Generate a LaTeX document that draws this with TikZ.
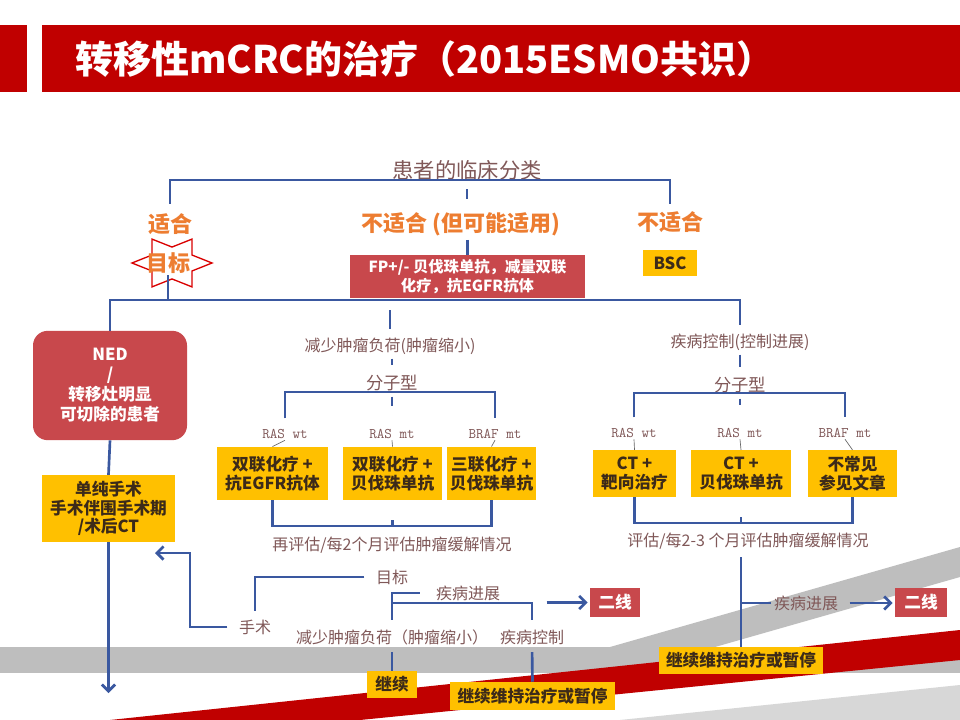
\documentclass[tikz,border=0pt]{standalone}
\usepackage{fontspec}
\setmainfont{Noto Sans CJK SC}
\usepackage{xcolor}
\usetikzlibrary{arrows.meta}
\usetikzlibrary{positioning, calc}

\definecolor{titred}{RGB}{192,0,0}
\definecolor{lnblue}{RGB}{58,88,160}
\definecolor{brn}{RGB}{128,88,88}
\definecolor{orng}{RGB}{237,125,49}
\definecolor{gold}{RGB}{255,192,0}
\definecolor{redbox}{RGB}{200,72,76}
\definecolor{ink}{RGB}{60,42,25}
\definecolor{bandgray}{RGB}{190,190,190}
\definecolor{bandlight}{RGB}{215,215,215}

\tikzset{
  link/.style={draw=lnblue, line width=2pt},
  arr/.style={link, -{Straight Barb[length=5pt, width=10pt, line width=2pt]}},
  tick/.style={draw=gray!80!black, line width=0.5pt},
  txt/.style={text=brn, inner sep=1pt, font=\fontsize{12}{14}\selectfont},
  bigtxt/.style={txt, font=\fontsize{16}{18}\selectfont},
  ora/.style={text=orng, inner sep=1pt, font=\bfseries\fontsize{16.5}{19}\selectfont},
  mono/.style={text=brn, inner sep=1pt, font=\ttfamily\fontsize{11}{12}\selectfont},
  ybox/.style={fill=gold, text=ink, align=center, inner sep=0pt,
    font=\bfseries\fontsize{12.5}{14}\selectfont},
  rbox/.style={fill=redbox, text=white, align=center, inner sep=0pt,
    font=\bfseries\fontsize{12.5}{14}\selectfont},
  starline/.style={draw=red!85!black, fill=white, line width=1pt, line join=miter},
}

\begin{document}
\begin{tikzpicture}[x=0.75pt, y=-0.75pt]
  \useasboundingbox (0,0) rectangle (960,720);
  \fill[white] (0,0) rectangle (960,720);

  % title bar
  \fill[titred] (0,25) rectangle (27,92);
  \fill[titred] (42,25) rectangle (960,92);
  \node[anchor=west, text=white, inner sep=0pt, font=\bfseries\fontsize{28.5}{32}\selectfont] (ttl) at (75,59) {转移性mCRC的治疗（2015ESMO共识）};

  % bands at the bottom
  \fill[bandgray] (0,647) rectangle (960,673);
  \fill[bandgray] (610,647) -- (960,547) -- (960,577) -- (715,647) -- cycle;
  \fill[titred] (110,720) -- (960,630) -- (960,660) -- (360,720) -- cycle;
  \fill[bandlight] (620,720) -- (960,685) -- (960,720) -- cycle;

  \coordinate (topbar) at (0,180);
  \coordinate (bus) at (0,300);
  \coordinate (mol1bar) at (0,392);
  \coordinate (mol2bar) at (0,393);
  \coordinate (lowL) at (0,526);
  \coordinate (lowR) at (0,523);
  \coordinate (prog) at (0,603);

  \node[bigtxt] (cls) at (467,170) {患者的临床分类};
  \node[ora] (fit) at (170,224) {适合};
  \node[ora] (part) at (461,224) {不适合 (但可能适用)};
  \node[ora] (unfit) at (670,222) {不适合};

  \begin{scope}[shift={(172,263)}, yscale=0.69]
    \draw[starline] (0:40) \foreach \a in {30,90,...,330} {-- (\a:23.1) -- (\a+30:40)} -- cycle;
  \end{scope}
  \node[ora] (goal) at (168,263) {目标};

  \node[rbox, minimum width=176pt, minimum height=32pt, font=\bfseries\fontsize{11.5}{14}\selectfont] (fp) at (467.5,276.5) {FP+/- 贝伐珠单抗，减量双联\\化疗，抗EGFR抗体};
  \node[ybox, minimum width=40.5pt, minimum height=19.5pt] (bsc) at (670,263) {BSC};

  \draw[link, shorten <=6pt, shorten >=4.5pt] (fit.north) -- (fit.north |- topbar) -| (unfit.north);
  \draw[link, shorten <=6pt, shorten >=8.5pt] (cls.south) -- (cls.south |- part.north);
  \draw[link, shorten <=2pt] (part.south -| fp.north) -- (fp.north);

  % left column
  \node[rbox, rounded corners=11pt, minimum width=115.5pt, minimum height=82pt, font=\bfseries\fontsize{12.5}{15}\selectfont] (ned) at (110,385.5) {NED\\/\\转移灶明显\\可切除的患者};
  \node[ybox, minimum width=100pt, minimum height=50pt] (op) at (108.5,508.5) {单纯手术\\手术伴围手术期\\/术后CT};
  \coordinate (down) at (108.5,693);

  \draw[link] (goal.south) -- (goal.south |- bus);
  \node[txt] (bur) at (390,346) {减少肿瘤负荷(肿瘤缩小)};
  \node[txt] (dc) at (740,342) {疾病控制(控制进展)};
  \draw[link, shorten >=5pt] (ned.north) -- (ned.north |- bus) -| (dc.north);
  \draw[link, shorten <=7.5pt, shorten >=5pt] (bur.north |- bus) -- (bur.north);
  \draw[link] (ned.south) -- (op.north);
  \draw[arr] (op.south) -- (down);

  % middle column
  \node[txt, font=\fontsize{13}{15}\selectfont] (mol1) at (392,383) {分子型};
  \node[mono] (ras1) at (285,434) {RAS wt};
  \node[mono] (ras2) at (392,434) {RAS mt};
  \node[mono] (braf1) at (495,434) {BRAF mt};
  \node[ybox, minimum width=83pt, minimum height=40pt] (b1) at (272.5,473.5) {双联化疗 +\\抗EGFR抗体};
  \node[ybox, minimum width=74pt, minimum height=40pt] (b2) at (392.5,473.5) {双联化疗 +\\贝伐珠单抗};
  \node[ybox, minimum width=67pt, minimum height=40pt] (b3) at (491.5,473.5) {三联化疗 +\\贝伐珠单抗};
  \node[txt] (re1) at (392,545) {再评估/每2个月评估肿瘤缓解情况};

  \draw[link, shorten <=2pt, shorten >=6pt] (mol1.north |- bur.south) -- (mol1.north);
  \draw[link, shorten <=7pt, shorten >=7pt] (ras1.north) -- (ras1.north |- mol1bar) -| (braf1.north);
  \draw[link, shorten <=3pt, shorten >=16pt] (mol1.south) -- (ras2.north);
  \draw[tick] (ras1.south) -- (b1.north);
  \draw[tick] (ras2.south) -- (b2.north);
  \draw[tick] (braf1.south) -- (b3.north);
  \draw[link] (b1.south) -- (b1.south |- lowL) -| (b3.south);
  \draw[link, shorten <=15pt] (b2.south) -- (b2.south |- lowL);

  % right column
  \node[txt, font=\fontsize{13}{15}\selectfont] (mol2) at (740,385) {分子型};
  \node[mono] (ras3) at (634,433) {RAS wt};
  \node[mono] (ras4) at (740,433) {RAS mt};
  \node[mono] (braf2) at (845,433) {BRAF mt};
  \node[ybox, minimum width=62pt, minimum height=35pt] (b4) at (634.5,473.5) {CT +\\靶向治疗};
  \node[ybox, minimum width=75pt, minimum height=35pt] (b5) at (741,473.5) {CT +\\贝伐珠单抗};
  \node[ybox, minimum width=67pt, minimum height=35pt] (b6) at (852.5,473.5) {不常见\\参见文章};
  \node[txt] (re2) at (748,541) {评估/每2-3 个月评估肿瘤缓解情况};

  \draw[link, shorten <=2pt, shorten >=6pt] (mol2.north |- dc.south) -- (mol2.north);
  \draw[link, shorten <=7pt, shorten >=7pt] (ras3.north) -- (ras3.north |- mol2bar) -| (braf2.north);
  \draw[link, shorten <=3pt, shorten >=16pt] (mol2.south) -- (ras4.north);
  \draw[tick] (ras3.south) -- (b4.north);
  \draw[tick] (ras4.south) -- (b5.north);
  \draw[tick] (braf2.south) -- (b6.north);
  \draw[link] (b4.south) -- (b4.south |- lowR) -| (b6.south);
  \draw[link, shorten <=15pt] (b5.south) -- (b5.south |- lowR);

  % lower part
  \node[txt] (goal2) at (392,577) {目标};
  \node[txt] (sur) at (255,627) {手术};
  \node[txt] (pd1) at (468,593) {疾病进展};
  \node[txt] (bur2) at (392,637) {减少肿瘤负荷（肿瘤缩小）};
  \node[txt] (ctl1) at (532,637) {疾病控制};
  \node[rbox, minimum width=37.5pt, minimum height=22pt] (sl1) at (615,602.5) {二线};
  \node[ybox, minimum width=37.5pt, minimum height=20pt] (go) at (392,684.5) {继续};
  \node[ybox, minimum width=124pt, minimum height=21pt] (mt1) at (532.5,696) {继续维持治疗或暂停};

  \node[txt] (pd2) at (806,603) {疾病进展};
  \node[rbox, minimum width=39pt, minimum height=22pt] (sl2) at (921,602.5) {二线};
  \node[ybox, minimum width=123pt, minimum height=20pt] (mt2) at (741,660.5) {继续维持治疗或暂停};

  \coordinate (turn) at (190,553);
  \coordinate (opin) at (155,553);
  \draw[arr, shorten <=7.5pt] (sur.west) -| (turn) -- (opin);
  \draw[link, shorten <=7.5pt, shorten >=5pt] (goal2.west) -| (sur.north);
  \draw[link, shorten <=6pt, shorten >=10.5pt] (bur2.north) |- (pd1.west);
  \draw[link, shorten <=6pt, shorten >=6pt] (bur2.north) |- (ctl1.north |- prog) -- (ctl1.north);
  \draw[arr, shorten <=11pt, shorten >=1.5pt] (ctl1.north |- sl1.west) -- (sl1.west);
  \draw[link, shorten <=4.5pt] (bur2.south) -- (go.north);
  \draw[link, shorten <=4.5pt] (ctl1.south) -- (mt1.north);

  \draw[link, shorten <=5pt] (mt2.north |- re2.south) -- (mt2.north);
  \draw[link, shorten >=1pt] (mt2.north |- pd2.west) -- (pd2.west);
  \draw[arr, shorten <=7.5pt, shorten >=1.5pt] (pd2.east) -- (pd2.east -| sl2.west);
\end{tikzpicture}
\end{document}
